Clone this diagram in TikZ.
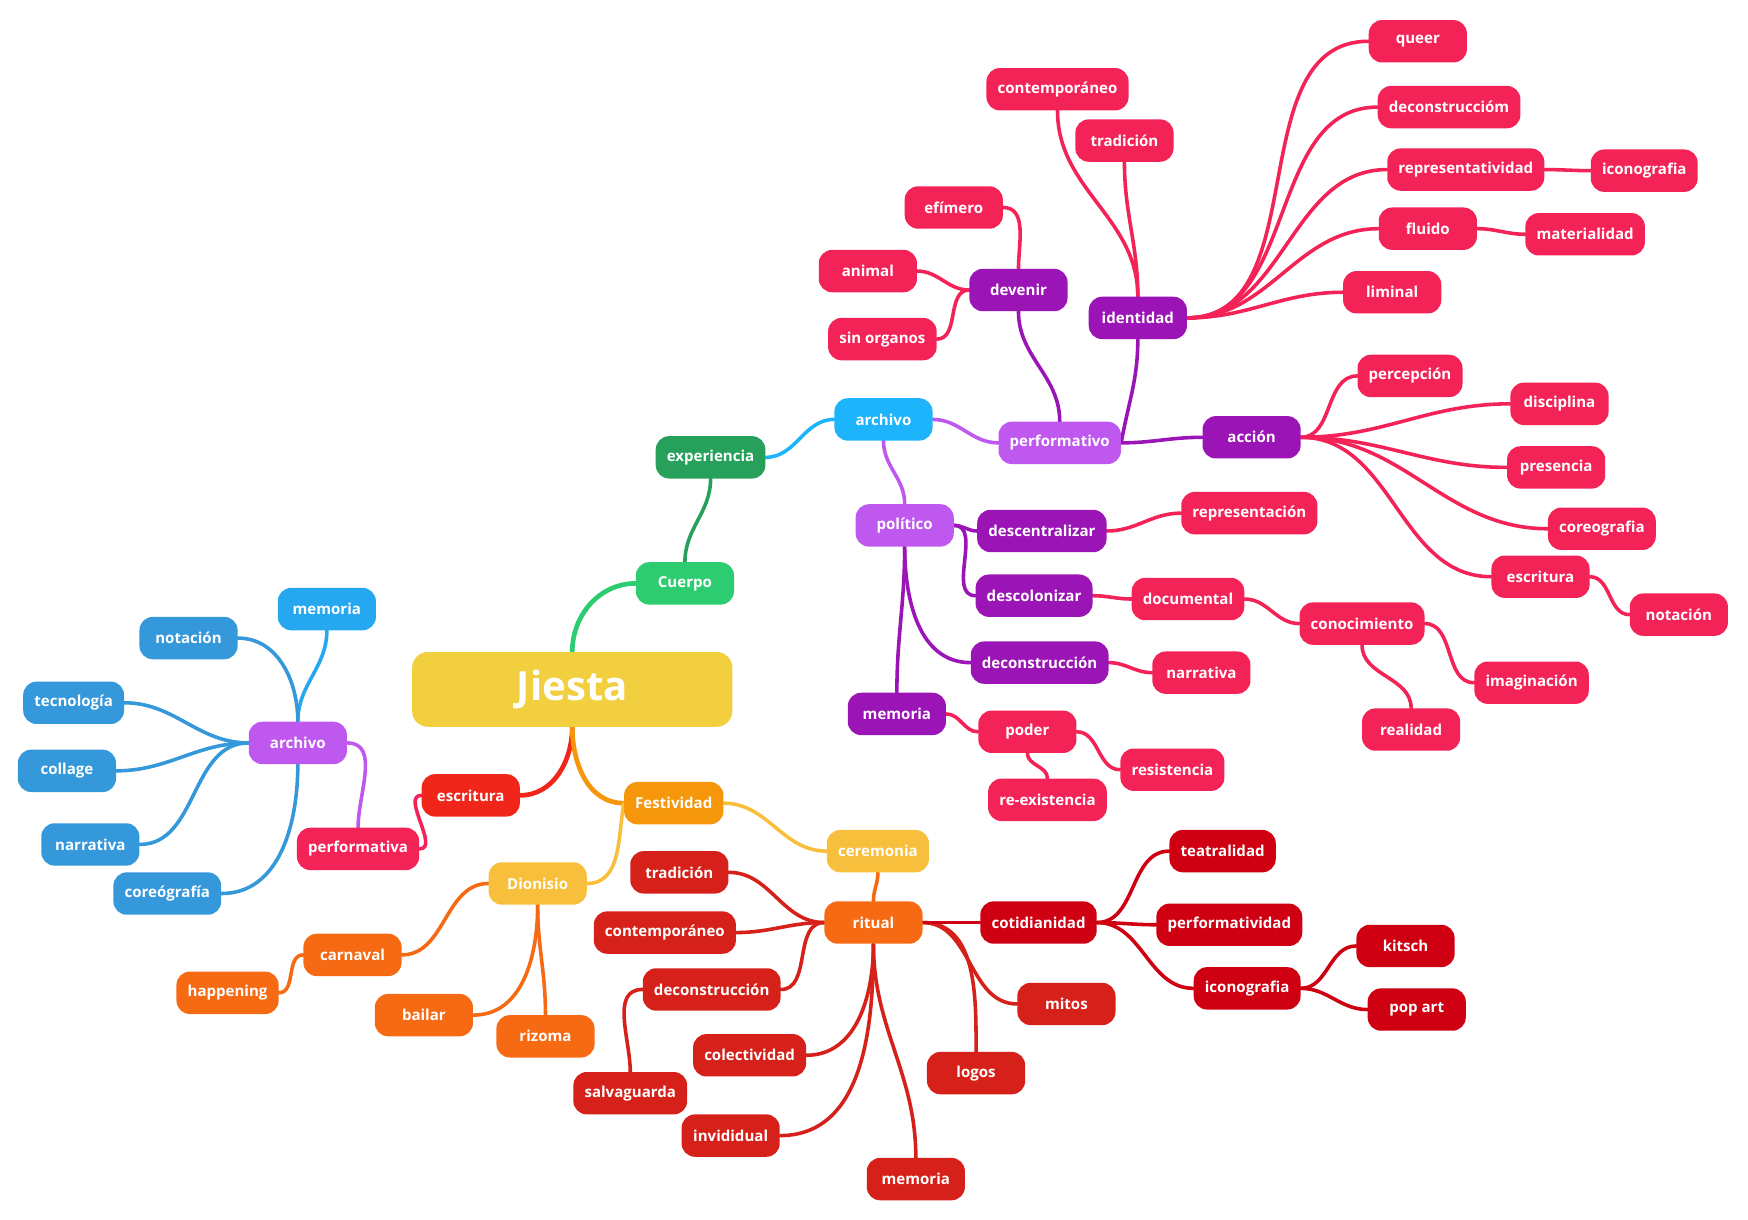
\documentclass[tikz,border=0pt]{standalone}
\usepackage{fontspec}
\setmainfont{Open Sans}
\usepackage{xcolor}
\usepackage{tikz}
\usetikzlibrary{shapes,positioning,backgrounds}

\definecolor{rootc}{HTML}{F2CF3E}
\definecolor{greenc}{HTML}{2ECC71}
\definecolor{dgreenc}{HTML}{26A05A}
\definecolor{skyc}{HTML}{1DB4FC}
\definecolor{sky2c}{HTML}{26A8F0}
\definecolor{bluec}{HTML}{3498DB}
\definecolor{lpurplec}{HTML}{BE58EE}
\definecolor{dpurplec}{HTML}{9B14B6}
\definecolor{pinkc}{HTML}{F42357}
\definecolor{redc}{HTML}{F0261A}
\definecolor{orangec}{HTML}{F6960A}
\definecolor{yellowc}{HTML}{F8BF3C}
\definecolor{dorangec}{HTML}{F66A14}
\definecolor{dredc}{HTML}{D6211B}
\definecolor{crimc}{HTML}{CE0012}

\begin{document}
\begin{tikzpicture}[
  x=1pt, y=1pt,
  every node/.style = {shape=rectangle, rounded corners=12pt, text=white,
      minimum width=88pt, minimum height=38pt, inner xsep=10pt,
      font=\bfseries\fontsize{13.5}{16}\selectfont},
  link/.style = {line width=3.2pt, line cap=round},
  mainlink/.style = {line width=4.2pt, line cap=round}
]
\useasboundingbox (0,0) rectangle (1567,-1093);

  % Nodos
  \node[fill=rootc, minimum width=287pt, minimum height=67pt, rounded corners=14pt,
        font=\bfseries\fontsize{36}{40}\selectfont] (jiesta) at (513,-618) {Jiesta};

  \node[fill=greenc] (cuerpo) at (614,-523) {Cuerpo};
  \node[fill=dgreenc] (experiencia) at (637,-410) {experiencia};
  \node[fill=skyc] (archivo) at (792,-376) {archivo};
  \node[fill=lpurplec] (performativo) at (950,-397) {performativo};
  \node[fill=dpurplec] (devenir) at (913,-260) {devenir};
  \node[fill=pinkc] (efimero) at (855,-186) {efímero};
  \node[fill=pinkc] (animal) at (778,-243) {animal};
  \node[fill=pinkc] (sinorganos) at (791,-304) {sin organos};
  \node[fill=dpurplec] (identidad) at (1020,-285) {identidad};
  \node[fill=pinkc] (contemporaneo) at (948,-80) {contemporáneo};
  \node[fill=pinkc] (tradicion) at (1008,-126) {tradición};
  \node[fill=pinkc] (queer) at (1271,-37) {queer};
  \node[fill=pinkc] (deconstruccion) at (1299,-96) {deconstruccióm};
  \node[fill=pinkc] (representatividad) at (1314,-152) {representatividad};
  \node[fill=pinkc] (iconografia) at (1474,-153) {iconografia};
  \node[fill=pinkc] (fluido) at (1280,-205) {fluido};
  \node[fill=pinkc] (materialidad) at (1421,-210) {materialidad};
  \node[fill=pinkc] (liminal) at (1248,-262) {liminal};
  \node[fill=dpurplec] (accion) at (1122,-392) {acción};
  \node[fill=pinkc] (percepcion) at (1264,-337) {percepción};
  \node[fill=pinkc] (disciplina) at (1398,-362) {disciplina};
  \node[fill=pinkc] (presencia) at (1395,-419) {presencia};
  \node[fill=pinkc] (coreografia) at (1436,-474) {coreografia};
  \node[fill=pinkc] (escritura) at (1381,-517) {escritura};
  \node[fill=pinkc] (notacion) at (1505,-551) {notación};
  \node[fill=lpurplec] (politico) at (811,-471) {político};
  \node[fill=dpurplec] (descentralizar) at (934,-476) {descentralizar};
  \node[fill=pinkc] (representacion) at (1120,-460) {representación};
  \node[fill=dpurplec] (descolonizar) at (927,-534) {descolonizar};
  \node[fill=pinkc] (documental) at (1065,-537) {documental};
  \node[fill=pinkc] (conocimiento) at (1221,-559) {conocimiento};
  \node[fill=pinkc] (imaginacion) at (1373,-612) {imaginación};
  \node[fill=pinkc] (realidad) at (1265,-654) {realidad};
  \node[fill=dpurplec] (deconstruccionP) at (932,-594) {deconstrucción};
  \node[fill=pinkc] (narrativaP) at (1077,-603) {narrativa};
  \node[fill=dpurplec] (memoriaP) at (804,-640) {memoria};
  \node[fill=pinkc] (poder) at (921,-656) {poder};
  \node[fill=pinkc] (resistencia) at (1051,-690) {resistencia};
  \node[fill=pinkc] (reexistencia) at (939,-717) {re-existencia};

  \node[fill=redc] (escrituraL) at (422,-713) {escritura};
  \node[fill=pinkc] (performativa) at (321,-761) {performativa};
  \node[fill=lpurplec] (archivoL) at (267,-666) {archivo};
  \node[fill=sky2c] (memoriaL) at (293,-546) {memoria};
  \node[fill=bluec] (notacionL) at (169,-572) {notación};
  \node[fill=bluec] (tecnologia) at (66,-630) {tecnología};
  \node[fill=bluec] (collage) at (60,-691) {collage};
  \node[fill=bluec] (narrativaL) at (81,-757) {narrativa};
  \node[fill=bluec] (coreografiaL) at (150,-801) {coreógrafía};

  \node[fill=orangec] (festividad) at (604,-720) {Festividad};
  \node[fill=yellowc] (ceremonia) at (787,-763) {ceremonia};
  \node[fill=yellowc] (dionisio) at (482,-792) {Dionisio};
  \node[fill=dorangec] (carnaval) at (316,-856) {carnaval};
  \node[fill=dorangec] (happening) at (204,-890) {happening};
  \node[fill=dorangec] (bailar) at (380,-910) {bailar};
  \node[fill=dorangec] (rizoma) at (489,-929) {rizoma};
  \node[fill=dorangec] (ritual) at (783,-827) {ritual};
  \node[fill=dredc] (tradicionR) at (609,-782) {tradición};
  \node[fill=dredc] (contemporaneoR) at (596,-836) {contemporáneo};
  \node[fill=dredc] (deconstruccionR) at (638,-887) {deconstrucción};
  \node[fill=dredc] (salvaguarda) at (565,-980) {salvaguarda};
  \node[fill=dredc] (colectividad) at (672,-946) {colectividad};
  \node[fill=dredc] (invididual) at (655,-1018) {invididual};
  \node[fill=dredc] (memoriaR) at (821,-1057) {memoria};
  \node[fill=dredc] (logos) at (875,-962) {logos};
  \node[fill=dredc] (mitos) at (956,-900) {mitos};
  \node[fill=crimc] (cotidianidad) at (931,-827) {cotidianidad};
  \node[fill=crimc] (teatralidad) at (1096,-763) {teatralidad};
  \node[fill=crimc] (performatividad) at (1102,-829) {performatividad};
  \node[fill=crimc] (iconografiaR) at (1118,-886) {iconografia};
  \node[fill=crimc] (kitsch) at (1260,-848) {kitsch};
  \node[fill=crimc] (popart) at (1270,-905) {pop art};

  % Conexiones
  \begin{scope}[on background layer]
  \fill[white] (0,0) rectangle (1567,-1093);
  \draw[mainlink, greenc] (jiesta.north) to[out=90,in=180] (cuerpo.west);
  \draw[mainlink, redc] (jiesta.south) to[out=-90,in=0] (escrituraL.east);
  \draw[mainlink, orangec] (jiesta.south) to[out=-90,in=180] (festividad.west);

  \draw[link, dgreenc] (cuerpo.north) to[out=90,in=-90] (experiencia.south);
  \draw[link, skyc] (experiencia.east) to[out=0,in=180] (archivo.west);
  \draw[link, lpurplec] (archivo.east) to[out=0,in=180] (performativo.west);
  \draw[link, lpurplec] (archivo.south) to[out=-90,in=90] (politico.north);
  \draw[link, dpurplec] (performativo.north) to[out=90,in=-90] (devenir.south);
  \draw[link, dpurplec] (performativo.east) to[out=80,in=-90] (identidad.south);
  \draw[link, dpurplec] (performativo.east) to[out=0,in=180] (accion.west);
  \draw[link, pinkc] (devenir.north) to[out=90,in=0] (efimero.east);
  \draw[link, pinkc] (devenir.west) to[out=180,in=0] (animal.east);
  \draw[link, pinkc] (devenir.west) to[out=180,in=0] (sinorganos.east);
  \draw[link, pinkc] (identidad.north) to[out=90,in=-90] (contemporaneo.south);
  \draw[link, pinkc] (identidad.north) to[out=90,in=-90] (tradicion.south);
  \draw[link, pinkc] (identidad.east) to[out=0,in=180] (queer.west);
  \draw[link, pinkc] (identidad.east) to[out=0,in=180] (deconstruccion.west);
  \draw[link, pinkc] (identidad.east) to[out=0,in=180] (representatividad.west);
  \draw[link, pinkc] (identidad.east) to[out=0,in=180] (fluido.west);
  \draw[link, pinkc] (identidad.east) to[out=0,in=180] (liminal.west);
  \draw[link, pinkc] (representatividad.east) to[out=0,in=180] (iconografia.west);
  \draw[link, pinkc] (fluido.east) to[out=0,in=180] (materialidad.west);
  \draw[link, pinkc] (accion.east) to[out=0,in=180] (percepcion.west);
  \draw[link, pinkc] (accion.east) to[out=0,in=180] (disciplina.west);
  \draw[link, pinkc] (accion.east) to[out=0,in=180] (presencia.west);
  \draw[link, pinkc] (accion.east) to[out=0,in=180] (coreografia.west);
  \draw[link, pinkc] (accion.east) to[out=0,in=180] (escritura.west);
  \draw[link, pinkc] (escritura.east) to[out=0,in=180] (notacion.west);

  \draw[link, dpurplec] (politico.east) to[out=0,in=180] (descentralizar.west);
  \draw[link, dpurplec] (politico.east) to[out=0,in=180] (descolonizar.west);
  \draw[link, dpurplec] (politico.south) to[out=-90,in=180] (deconstruccionP.west);
  \draw[link, dpurplec] (politico.south) to[out=-90,in=90] (memoriaP.north);
  \draw[link, pinkc] (descentralizar.east) to[out=0,in=180] (representacion.west);
  \draw[link, pinkc] (descolonizar.east) to[out=0,in=180] (documental.west);
  \draw[link, pinkc] (documental.east) to[out=0,in=180] (conocimiento.west);
  \draw[link, pinkc] (conocimiento.east) to[out=0,in=180] (imaginacion.west);
  \draw[link, pinkc] (conocimiento.south) to[out=-90,in=90] (realidad.north);
  \draw[link, pinkc] (deconstruccionP.east) to[out=0,in=180] (narrativaP.west);
  \draw[link, pinkc] (memoriaP.east) to[out=0,in=180] (poder.west);
  \draw[link, pinkc] (poder.east) to[out=0,in=180] (resistencia.west);
  \draw[link, pinkc] (poder.south) to[out=-90,in=90] (reexistencia.north);

  \draw[link, pinkc] (escrituraL.west) to[out=180,in=0] (performativa.east);
  \draw[link, lpurplec] (performativa.north) to[out=90,in=0] (archivoL.east);
  \draw[link, sky2c] (archivoL.north) to[out=90,in=-90] (memoriaL.south);
  \draw[link, bluec] (archivoL.north) to[out=90,in=0] (notacionL.east);
  \draw[link, bluec] (archivoL.west) to[out=180,in=0] (tecnologia.east);
  \draw[link, bluec] (archivoL.west) to[out=180,in=0] (collage.east);
  \draw[link, bluec] (archivoL.west) to[out=180,in=0] (narrativaL.east);
  \draw[link, bluec] (archivoL.south) to[out=-90,in=0] (coreografiaL.east);

  \draw[link, yellowc] (festividad.east) to[out=0,in=180] (ceremonia.west);
  \draw[link, yellowc] (festividad.west) to[out=-100,in=0] (dionisio.east);
  \draw[link, dorangec] (dionisio.west) to[out=180,in=0] (carnaval.east);
  \draw[link, dorangec] (carnaval.west) to[out=180,in=0] (happening.east);
  \draw[link, dorangec] (dionisio.south) to[out=-90,in=0] (bailar.east);
  \draw[link, dorangec] (dionisio.south) to[out=-90,in=90] (rizoma.north);
  \draw[link, dorangec] (ceremonia.south) to[out=-90,in=90] (ritual.north);
  \draw[link, dredc] (ritual.west) to[out=180,in=0] (tradicionR.east);
  \draw[link, dredc] (ritual.west) to[out=180,in=0] (contemporaneoR.east);
  \draw[link, dredc] (ritual.west) to[out=180,in=0] (deconstruccionR.east);
  \draw[link, dredc] (deconstruccionR.west) to[out=180,in=90] (salvaguarda.north);
  \draw[link, dredc] (ritual.south) to[out=-90,in=0] (colectividad.east);
  \draw[link, dredc] (ritual.south) to[out=-90,in=0] (invididual.east);
  \draw[link, dredc] (ritual.south) to[out=-90,in=90] (memoriaR.north);
  \draw[link, dredc] (ritual.east) to[out=0,in=90] (logos.north);
  \draw[link, dredc] (ritual.east) to[out=0,in=180] (mitos.west);
  \draw[link, crimc] (ritual.east) to[out=0,in=180] (cotidianidad.west);
  \draw[link, crimc] (cotidianidad.east) to[out=0,in=180] (teatralidad.west);
  \draw[link, crimc] (cotidianidad.east) to[out=0,in=180] (performatividad.west);
  \draw[link, crimc] (cotidianidad.east) to[out=0,in=180] (iconografiaR.west);
  \draw[link, crimc] (iconografiaR.east) to[out=0,in=180] (kitsch.west);
  \draw[link, crimc] (iconografiaR.east) to[out=0,in=180] (popart.west);
  \end{scope}

\end{tikzpicture}
\end{document}
